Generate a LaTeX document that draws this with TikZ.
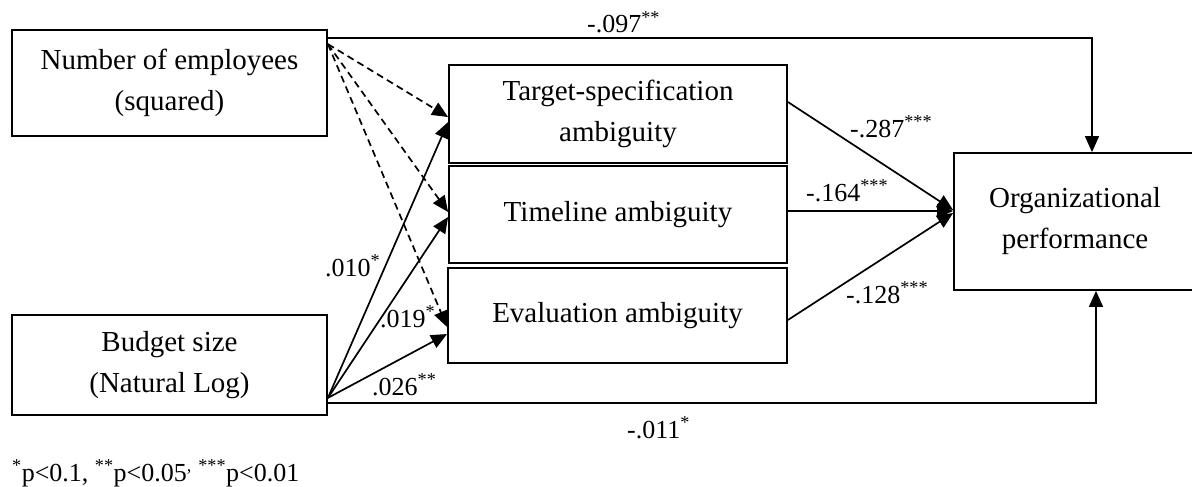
\documentclass[tikz,border=0pt]{standalone}
\usepackage{fontspec}
\setmainfont{Liberation Serif}
\usetikzlibrary{arrows.meta}
\tikzset{
  box/.style={draw, line width=1.8pt, inner sep=0pt, align=center, font=\fontsize{29}{41}\selectfont},
  conn/.style={line width=1.7pt},
  arr/.style={conn, -{Triangle[length=16pt,width=14pt]}},
  darr/.style={arr, dash pattern=on 7pt off 4.5pt},
  lab/.style={anchor=base west, inner sep=0pt, font=\fontsize{26}{30}\selectfont},
}
\begin{document}
\begin{tikzpicture}[x=1pt,y=-1pt]
\useasboundingbox (0,0) rectangle (1192,487);
\clip (0,0) rectangle (1192,487);
% boxes
\node[box, minimum width=315pt, minimum height=106pt] (emp) at (169.5,83) {Number of employees\\(squared)};
\node[box, minimum width=315pt, minimum height=100pt] (bud) at (169.5,365) {Budget size\\(Natural Log)};
\node[box, minimum width=338pt, minimum height=98pt] (tgt) at (618,114) {Target-specification\\ambiguity};
\node[box, minimum width=338pt, minimum height=97pt] (tml) at (618,214.5) {Timeline ambiguity};
\node[box, minimum width=339pt, minimum height=95pt] (evl) at (617.5,315.5) {Evaluation ambiguity};
\node[box, minimum width=242pt, minimum height=137pt] (org) at (1075,221.5) {Organizational\\performance};
% helper coordinates
\coordinate (t1) at (1092,38);
\coordinate (b1) at (1096,403);
\coordinate (eo) at ([yshift=-15pt]emp.north east);
\coordinate (bo) at ([yshift=18pt]bud.south east);
% direct paths
\draw[arr] (emp.east |- t1) -- (t1) -- (org.north -| t1);
\draw[arr] (bud.east |- b1) -- (b1) -- (org.south -| b1);
% dashed from employees
\draw[darr] (eo) -- ([yshift=-3pt]tgt.west);
\draw[darr] (eo) -- ([yshift=2.5pt]tml.west);
\draw[darr] (eo) -- ([yshift=-11.5pt]evl.west);
% solid from budget
\draw[arr] (bo) -- ([yshift=-8pt]tgt.west);
\draw[arr] (bo) -- ([yshift=-2.5pt]tml.west);
\draw[arr] (bo) -- ([yshift=-18.5pt]evl.west);
% mediators to outcome
\draw[arr] ([yshift=12pt]tgt.east) -- ([yshift=11.5pt]org.west);
\draw[arr] ([yshift=3.5pt]tml.east) -- ([yshift=10.5pt]org.west);
\draw[arr] ([yshift=-4.5pt]evl.east) -- ([yshift=8.5pt]org.west);
% labels
\node[lab] (l1) at (587,33) {-.097\textsuperscript{**}};
\node[lab] (l2) at (325,276) {.010\textsuperscript{*}};
\node[lab] (l3) at (380,327) {.019\textsuperscript{*}};
\node[lab] (l4) at (372,395) {.026\textsuperscript{**}};
\node[lab] (l5) at (850,137) {-.287\textsuperscript{***}};
\node[lab] (l6) at (806,201) {-.164\textsuperscript{***}};
\node[lab] (l7) at (846,303) {-.128\textsuperscript{***}};
\node[lab] (l8) at (627,438) {-.011\textsuperscript{*}};
\node[lab] (fn) at (12,481) {\textsuperscript{*}p<0.1, \textsuperscript{**}p<0.05\textsuperscript{,} \textsuperscript{***}p<0.01};
\end{tikzpicture}
\end{document}
